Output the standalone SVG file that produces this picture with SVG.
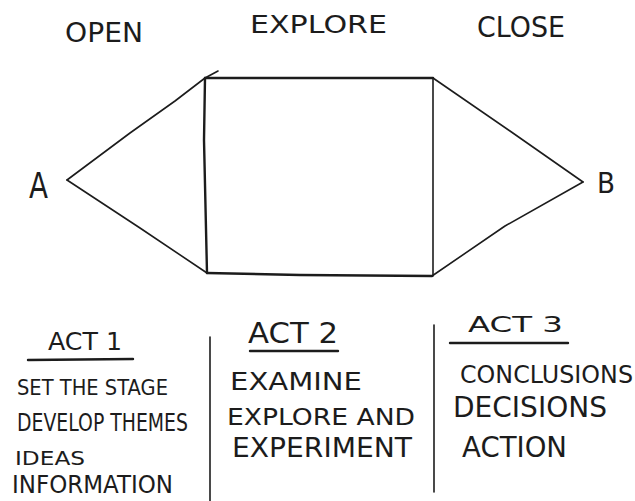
<svg xmlns="http://www.w3.org/2000/svg" width="635" height="501" viewBox="0 0 635 501">
<style>
  .bg { fill: #ffffff; }
  .t { font-family: "DejaVu Sans", "Liberation Sans", sans-serif; fill: #1c1c1c; }
  .ln { fill: none; stroke: #1c1c1c; stroke-linecap: round; stroke-linejoin: round; }
  .thin { stroke-width: 1.6; }
  .thick { stroke-width: 2.4; }
</style>
<rect class="bg" x="0" y="0" width="635" height="501"/>

<g id="title-open"><text class="t" x="65" y="42" font-size="26" textLength="78" lengthAdjust="spacingAndGlyphs">OPEN</text></g>
<g id="title-explore"><text class="t" x="250" y="33" font-size="25" textLength="137" lengthAdjust="spacingAndGlyphs">EXPLORE</text></g>
<g id="title-close"><text class="t" x="477" y="37" font-size="28" textLength="88" lengthAdjust="spacingAndGlyphs">CLOSE</text></g>

<g id="node-a"><text class="t" x="29" y="198" font-size="35" textLength="19" lengthAdjust="spacingAndGlyphs">A</text></g>
<g id="node-b"><text class="t" x="597" y="193" font-size="29" textLength="18" lengthAdjust="spacingAndGlyphs">B</text></g>

<g id="connectors">
  <path class="ln thin" d="M67,180 L130,133 L175,101 L205,78"/>
  <path class="ln thin" d="M205,78 L218,71"/>
  <path class="ln thick" d="M205,78 L433,78"/>
  <path class="ln thick" d="M205,78 L204,140 L207,273"/>
  <path class="ln thin" d="M433,78 L433,276"/>
  <path class="ln thick" d="M207,273 L300,275 L432,276"/>
  <path class="ln thin" d="M67,180 L140,228 L207,273"/>
  <path class="ln thin" d="M433,78 L510,131 L583,182"/>
  <path class="ln thin" d="M583,182 L505,226 L432,276"/>
  <path class="ln thin" d="M210,337 L210,501"/>
  <path class="ln thin" d="M434,325 L434,492"/>
</g>

<g id="act1">
  <text class="t" x="48" y="350" font-size="24" textLength="74" lengthAdjust="spacingAndGlyphs">ACT 1</text>
  <path class="ln thick" d="M28,360 L133,359"/>
  <text class="t" x="17" y="395" font-size="21" textLength="151" lengthAdjust="spacingAndGlyphs">SET THE STAGE</text>
  <text class="t" x="17" y="431" font-size="24" textLength="171" lengthAdjust="spacingAndGlyphs">DEVELOP THEMES</text>
  <text class="t" x="15" y="465" font-size="19" textLength="70" lengthAdjust="spacingAndGlyphs">IDEAS</text>
  <text class="t" x="12" y="493" font-size="25" textLength="161" lengthAdjust="spacingAndGlyphs">INFORMATION</text>
</g>

<g id="act2">
  <text class="t" x="248" y="343" font-size="28" textLength="90" lengthAdjust="spacingAndGlyphs">ACT 2</text>
  <path class="ln thick" d="M250,351 L338,351"/>
  <text class="t" x="230" y="390" font-size="25" textLength="132" lengthAdjust="spacingAndGlyphs">EXAMINE</text>
  <text class="t" x="227" y="425" font-size="23" textLength="188" lengthAdjust="spacingAndGlyphs">EXPLORE AND</text>
  <text class="t" x="232" y="457" font-size="27" textLength="180" lengthAdjust="spacingAndGlyphs">EXPERIMENT</text>
</g>

<g id="act3">
  <text class="t" x="468" y="332" font-size="21" textLength="95" lengthAdjust="spacingAndGlyphs">ACT 3</text>
  <path class="ln thick" d="M450,343 L568,343"/>
  <text class="t" x="460" y="383" font-size="24" textLength="173" lengthAdjust="spacingAndGlyphs">CONCLUSIONS</text>
  <text class="t" x="453" y="417" font-size="28" textLength="154" lengthAdjust="spacingAndGlyphs">DECISIONS</text>
  <text class="t" x="462" y="457" font-size="28" textLength="105" lengthAdjust="spacingAndGlyphs">ACTION</text>
</g>
</svg>
